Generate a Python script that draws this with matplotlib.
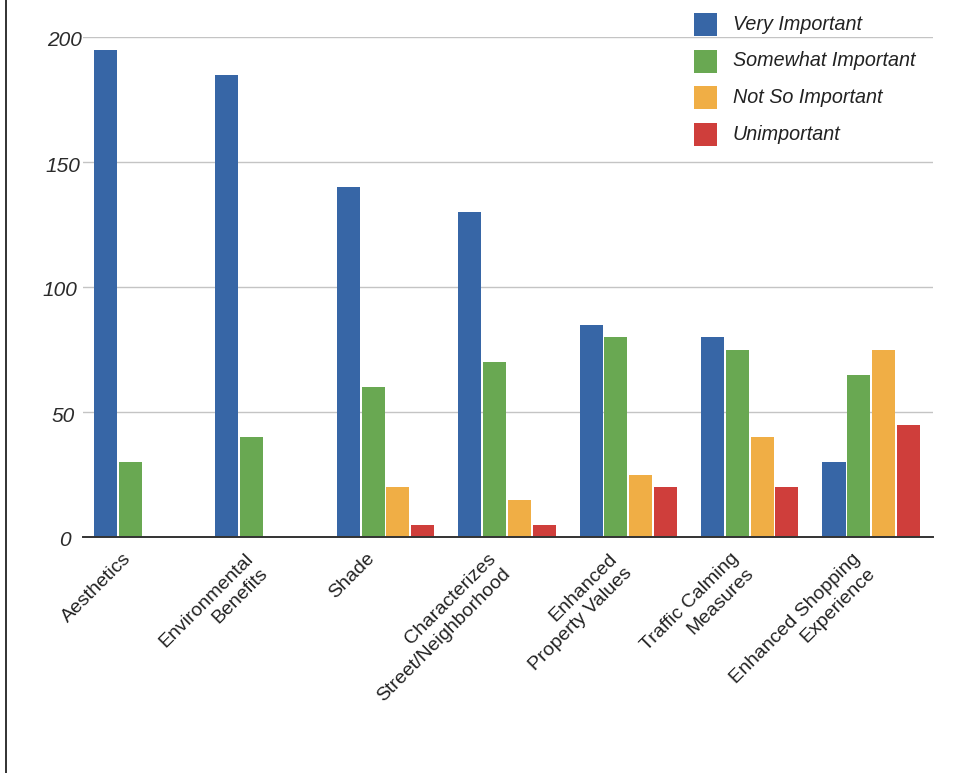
import matplotlib
matplotlib.use("Agg")
import matplotlib.pyplot as plt
import matplotlib.transforms as mtransforms
from matplotlib.patches import Rectangle
from matplotlib.lines import Line2D
import numpy as np

plt.rcParams["font.family"] = ["Liberation Sans", "DejaVu Sans"]

categories = [
    "Aesthetics",
    "Environmental\nBenefits",
    "Shade",
    "Characterizes\nStreet/Neighborhood",
    "Enhanced\nProperty Values",
    "Traffic Calming\nMeasures",
    "Enhanced Shopping\nExperience",
]
series_names = ["Very Important", "Somewhat Important", "Not So Important", "Unimportant"]
very_important = [195, 185, 140, 130, 85, 80, 30]
somewhat_important = [30, 40, 60, 70, 80, 75, 65]
not_so_important = [0, 0, 20, 15, 25, 40, 75]
unimportant = [0, 0, 5, 5, 20, 20, 45]
y_ticks = [0, 50, 100, 150, 200]

series_values = [very_important, somewhat_important, not_so_important, unimportant]
colors = ["#3766a6", "#69a852", "#f0ae45", "#cf3e3b"]

W, H = 978, 773
fig = plt.figure(figsize=(W / 100, H / 100), dpi=100)
ax = fig.add_axes([83 / W, (H - 537) / H, 850 / W, 500 / H])

n_cat = len(categories)
slot = 0.204
bar_w = 0.19
offset = 0.09
x0 = np.arange(n_cat)

for k, (vals, col) in enumerate(zip(series_values, colors)):
    ax.bar(x0 + offset + k * slot, vals, width=bar_w, align="edge",
           color=col, edgecolor="none", zorder=3)

ax.set_xlim(0, n_cat)
ax.set_ylim(0, 200)
ax.set_yticks(y_ticks)
ax.set_yticklabels([str(t) for t in y_ticks], fontsize=15, fontstyle="italic", color="#2b2b2b")
ax.tick_params(axis="y", length=0, pad=1)

# the tick-label column leans with the italic type: lower labels sit further left
for lbl, t in zip(ax.get_yticklabels(), y_ticks):
    shift = -11 * (1 - t / 200) ** 1.5
    lbl.set_transform(lbl.get_transform() +
                      mtransforms.ScaledTranslation(shift / 100, -2 / 100, fig.dpi_scale_trans))

ax.set_xticks([])
ax.grid(axis="y", color="#c4c4c4", linewidth=1.0, zorder=0)
for side in ["top", "right", "left"]:
    ax.spines[side].set_visible(False)
ax.spines["bottom"].set_color("#333333")
ax.spines["bottom"].set_linewidth(1.4)
ax.spines["bottom"].set_zorder(4)

# rotated category labels, right-aligned lines, anchored just under each group
for i, lab in enumerate(categories):
    xc = i + 0.5 - 0.17
    ax.annotate(lab, xy=(xc, 0), xycoords="data", xytext=(0, -13),
                textcoords="offset pixels", rotation=45, rotation_mode="anchor",
                ha="right", va="top", multialignment="right", fontsize=14,
                color="#222222", linespacing=1.3, annotation_clip=False)

# legend: coloured squares with italic labels, top right
for k, (name, col) in enumerate(zip(series_names, colors)):
    top = 13 + k * 36.5
    fig.add_artist(Rectangle((694 / W, 1 - (top + 23) / H), 23 / W, 23 / H,
                             transform=fig.transFigure, facecolor=col, edgecolor="none"))
    fig.text(733 / W, 1 - (top + 11.5) / H, name, fontsize=14.2, fontstyle="italic",
             color="#222222", ha="left", va="center")

# frame line on the left edge
fig.add_artist(Line2D([5.5 / W, 5.5 / W], [0, 1], transform=fig.transFigure,
                      color="#222222", linewidth=1.3))

fig.savefig("out.png", dpi=100, facecolor="white")
